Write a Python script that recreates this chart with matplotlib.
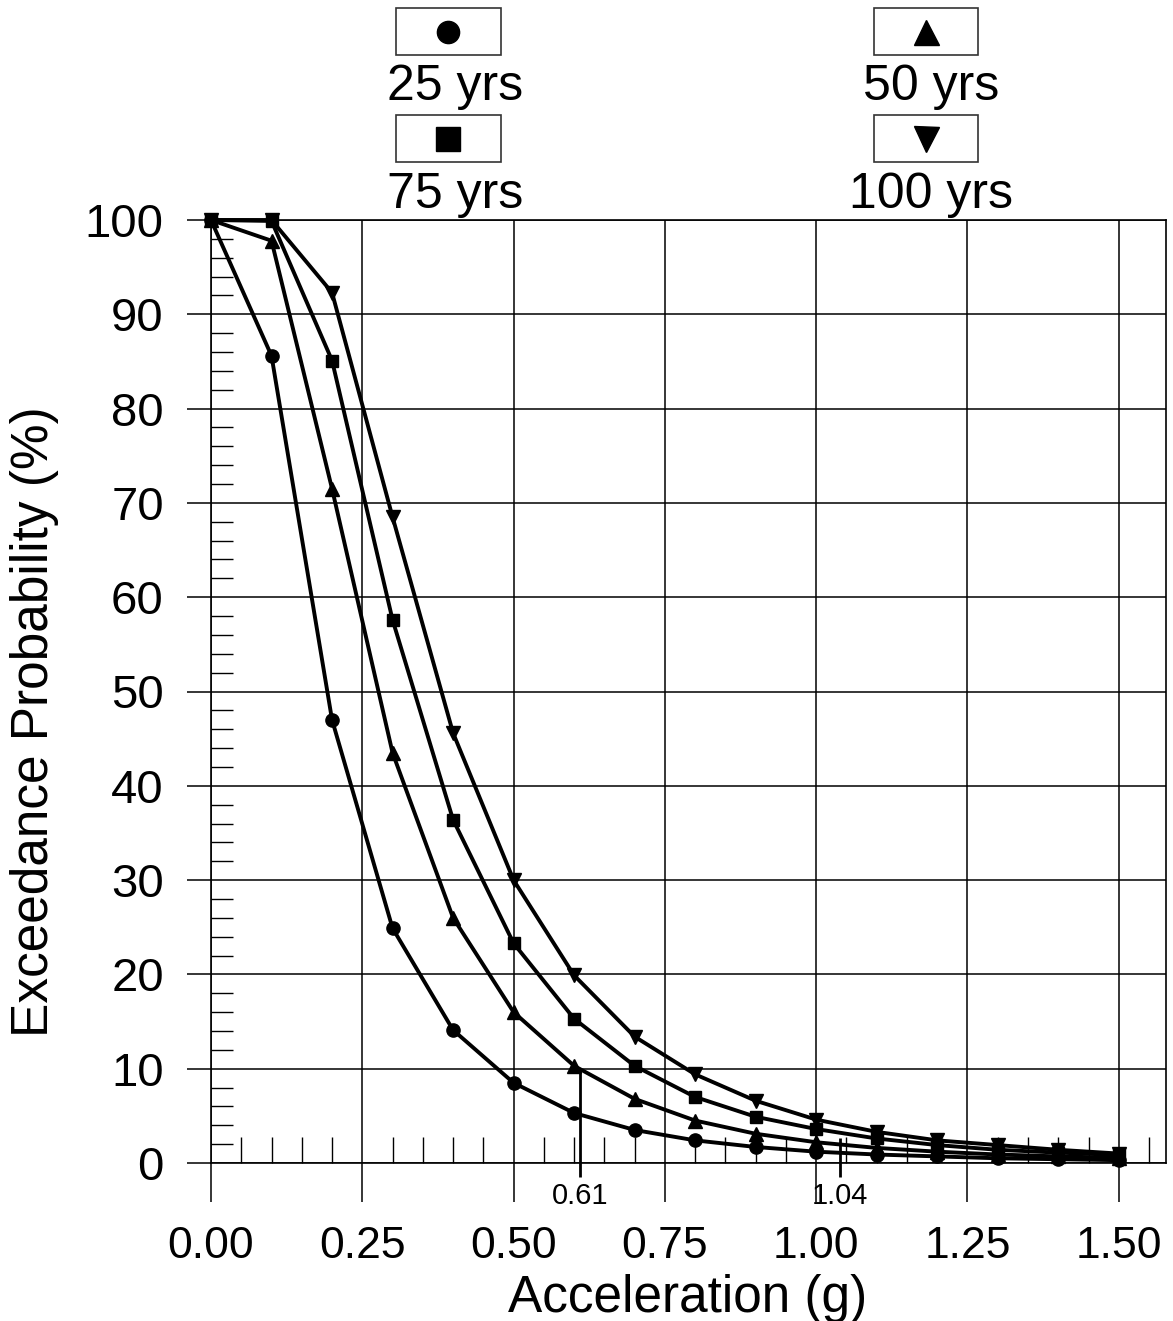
import numpy as np
import matplotlib
matplotlib.use("Agg")
import matplotlib.pyplot as plt
from matplotlib.ticker import MultipleLocator, FixedLocator
from matplotlib.patches import Rectangle
from matplotlib.lines import Line2D

plt.rcParams['font.family'] = ['Liberation Sans', 'DejaVu Sans']

# ---- data ----
accel = [0.0, 0.1, 0.2, 0.3, 0.4, 0.5, 0.6, 0.7, 0.8, 0.9, 1.0, 1.1, 1.2, 1.3, 1.4, 1.5]
p25 = [100, 85.6, 47.0, 24.9, 14.1, 8.5, 5.3, 3.5, 2.4, 1.7, 1.2, 0.9, 0.7, 0.5, 0.4, 0.3]
p50 = [100, 97.8, 71.5, 43.5, 26.0, 16.0, 10.3, 6.8, 4.5, 3.1, 2.2, 1.6, 1.2, 0.9, 0.7, 0.55]
p75 = [100, 99.9, 85.1, 57.6, 36.4, 23.3, 15.3, 10.3, 7.0, 4.9, 3.6, 2.6, 1.9, 1.4, 1.1, 0.85]
p100 = [100, 100, 92.3, 68.5, 45.6, 30.0, 19.9, 13.4, 9.4, 6.6, 4.6, 3.3, 2.4, 1.9, 1.4, 1.0]
series_labels = ['25 yrs', '50 yrs', '75 yrs', '100 yrs']
series_markers = ['o', '^', 's', 'v']
annot_x = [0.61, 1.04]
annot_y = [10.0, 2.6]
annot_labels = ['0.61', '1.04']
xtick_vals = [0.0, 0.25, 0.5, 0.75, 1.0, 1.25, 1.5]
ytick_vals = [0, 10, 20, 30, 40, 50, 60, 70, 80, 90, 100]

W, H = 1173, 1321
def fx(px):
    return px / W
def fy(py):
    return 1 - py / H

fig = plt.figure(figsize=(W / 100, H / 100), dpi=100)
ax = fig.add_axes([fx(211), fy(1163), (1166 - 211) / W, (1163 - 220) / H])

series = [p25, p50, p75, p100]
msizes = {'o': 9.5, '^': 10, 's': 9, 'v': 10}
for vals, mk in zip(series, series_markers):
    ax.plot(accel, vals, color='black', lw=2.8, marker=mk, ms=msizes[mk],
            mfc='black', mec='black', zorder=3, clip_on=False)

ax.set_xlim(0, 1.578)
ax.set_ylim(0, 100)

ax.xaxis.set_major_locator(FixedLocator(xtick_vals))
ax.set_xticklabels([f"{v:.2f}" for v in xtick_vals])
ax.xaxis.set_minor_locator(MultipleLocator(0.05))
ax.yaxis.set_major_locator(FixedLocator(ytick_vals))
ax.set_yticklabels([str(v) for v in ytick_vals])
ax.yaxis.set_minor_locator(MultipleLocator(2))

ax.tick_params(axis='x', which='major', direction='out', length=28, width=1.1,
               pad=17, labelsize=32)
ax.tick_params(axis='x', which='minor', direction='in', length=18.5, width=1.0)
ax.tick_params(axis='y', which='major', direction='out', length=17, width=1.1,
               pad=17, labelsize=34)
ax.tick_params(axis='y', which='minor', direction='in', length=16, width=1.0)

ax.grid(True, which='major', color='black', lw=1.1)
ax.set_axisbelow(True)
for sp in ax.spines.values():
    sp.set_linewidth(1.2)

# annotation lines
ax.vlines(annot_x, -1.5, annot_y, colors='black', lw=2.0, zorder=2, clip_on=False)
for xv, lab in zip(annot_x, annot_labels):
    ax.text(xv, -2.0, lab, ha='center', va='top', fontsize=21)

# axis labels
fig.text(fx(688), fy(1312), 'Acceleration (g)', ha='center', va='baseline', fontsize=37)
fig.text(fx(35), fy(722), 'Exceedance Probability (%)', rotation=90,
         ha='center', va='center', fontsize=37)

# legend (boxes with markers, labels beneath)
boxes = [(396, 8, 501, 55), (874, 8, 978, 55), (396, 115, 501, 162), (874, 115, 978, 162)]
label_pos = [(455, 100), (931, 100), (455, 208), (931, 208)]
leg_ms = {'o': 16, '^': 18, 's': 17, 'v': 18}
for (x0, y0, x1, y1), (lx, ly), mk, lab in zip(boxes, label_pos, series_markers, series_labels):
    fig.add_artist(Rectangle((fx(x0), fy(y1)), (x1 - x0) / W, (y1 - y0) / H,
                             transform=fig.transFigure, fill=False,
                             edgecolor='#333333', lw=1.2))
    fig.add_artist(Line2D([fx((x0 + x1) / 2)], [fy((y0 + y1) / 2)],
                          transform=fig.transFigure, marker=mk, ms=leg_ms[mk],
                          color='black', ls='none'))
    fig.text(fx(lx), fy(ly), lab, ha='center', va='baseline', fontsize=36)

fig.savefig('out.png', dpi=100)
